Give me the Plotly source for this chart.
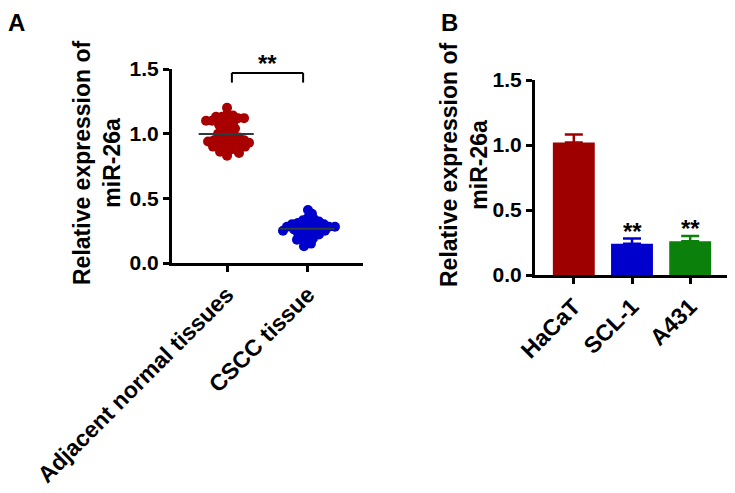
import numpy as np
import plotly.graph_objects as go

# ---------------- data ----------------
groups_a = ["Adjacent normal tissues", "CSCC tissue"]
normal_vals = [1.20, 1.15, 1.14, 1.13, 1.13, 1.12, 1.12, 1.11, 1.10, 1.10, 1.09,
               1.08, 1.07, 1.05, 1.04, 1.02, 1.01, 1.00, 0.99, 0.98, 0.97, 0.96,
               0.96, 0.95, 0.95, 0.94, 0.94, 0.93, 0.93, 0.92, 0.92, 0.91, 0.90,
               0.90, 0.89, 0.88, 0.87, 0.86, 0.85, 0.83]
cscc_vals = [0.41, 0.38, 0.35, 0.34, 0.33, 0.32, 0.31, 0.31, 0.30, 0.30, 0.29,
             0.29, 0.28, 0.28, 0.28, 0.27, 0.27, 0.26, 0.26, 0.25, 0.25, 0.24,
             0.24, 0.23, 0.22, 0.21, 0.20, 0.19, 0.18, 0.17, 0.15, 0.13]

cells_b = ["HaCaT", "SCL-1", "A431"]
cell_means = [1.02, 0.24, 0.26]
cell_sd = [0.06, 0.04, 0.04]

yticks = [0.0, 0.5, 1.0, 1.5]
ytick_text = ["0.0", "0.5", "1.0", "1.5"]
ytitle = "Relative expression of<br>miR-26a"

# ---------------- layout geometry ----------------
# page has an 8px body margin: figure is drawn 8px right/down of window origin
OFF = 8
W, H = 735, 493
A_x0, A_x1, A_y0, A_y1 = 172, 363, 263, 69     # window-pixel box of panel A axes
B_x0, B_x1, B_y0, B_y1 = 535, 729, 275, 80     # window-pixel box of panel B axes
A_xr = [-0.68, 1.68]
B_xr = [-0.667, 2.667]
YR = [0, 1.5]

def px(x):
    return (x - OFF) / W

def py(y):
    return 1 - (y - OFF) / H

def dom_x(a, b):
    return [px(a), px(b)]

def dom_y(bottom, top):
    return [py(bottom), py(top)]

RED_DOT = "#A80000"
BLUE_DOT = "#0000CC"
BAR_COLORS = ["#9E0000", "#0000CC", "#0B800B"]
FONT = "Liberation Sans, Arial, sans-serif"


def swarm(vals, center, xr, xpx, ypx_per_unit, d=5.5):
    """Deterministic beeswarm: offsets in data units so dots don't overlap."""
    px_per_x = xpx / (xr[1] - xr[0])
    order = np.argsort(vals)[::-1]
    placed = []
    xs = np.zeros(len(vals))
    for i in order:
        y = vals[i] * ypx_per_unit
        k = 0
        while True:
            off = ((k + 1) // 2) * (1 if k % 2 else -1) if k else 0
            ok = all((off - qx) ** 2 + (y - qy) ** 2 >= d * d for qx, qy in placed)
            if ok:
                break
            k += 1
        placed.append((off, y))
        xs[i] = center + off / px_per_x
    return xs


ypu_a = (A_y0 - A_y1) / 1.5
fig = go.Figure()

for gi, (vals, col) in enumerate([(normal_vals, RED_DOT), (cscc_vals, BLUE_DOT)]):
    xs = swarm(np.array(vals), gi, A_xr, A_x1 - A_x0, ypu_a)
    fig.add_trace(go.Scatter(x=xs, y=vals, mode="markers",
                             marker=dict(size=10, color=col, line=dict(width=0)),
                             xaxis="x", yaxis="y", showlegend=False))
    m = float(np.mean(vals))
    fig.add_trace(go.Scatter(x=[gi - 0.35, gi + 0.33], y=[m, m], mode="lines",
                             line=dict(color="#2b3b40", width=2),
                             xaxis="x", yaxis="y", showlegend=False))

# bars panel B
fig.add_trace(go.Bar(x=[0, 1, 2], y=cell_means, width=0.72,
                     marker=dict(color=BAR_COLORS, line=dict(width=0)),
                     xaxis="x2", yaxis="y2", showlegend=False))
for i in range(3):
    fig.add_trace(go.Scatter(x=[i], y=[cell_means[i]], mode="markers",
                             marker=dict(size=1, color="rgba(0,0,0,0)"),
                             error_y=dict(type="data", array=[cell_sd[i]],
                                          arrayminus=[0], symmetric=False,
                                          color=BAR_COLORS[i], thickness=2.5,
                                          width=9),
                             xaxis="x2", yaxis="y2", showlegend=False))

axis_common = dict(showline=True, linecolor="black", linewidth=3,
                   ticks="outside", ticklen=6, tickwidth=2.5, tickcolor="black",
                   showgrid=False, zeroline=False, fixedrange=True,
                   automargin=False,
                   tickfont=dict(family=FONT, size=21, color="black", weight="bold"))

fig.update_layout(
    width=W, height=H,
    margin=dict(l=0, r=0, t=0, b=0, autoexpand=False),
    paper_bgcolor="white", plot_bgcolor="white",
    xaxis=dict(domain=dom_x(A_x0, A_x1), range=A_xr, tickvals=[0, 1],
               ticktext=groups_a, tickangle=-45, anchor="y", **axis_common),
    yaxis=dict(domain=dom_y(A_y0, A_y1), range=YR, tickvals=yticks,
               ticktext=ytick_text, anchor="x", **axis_common),
    xaxis2=dict(domain=dom_x(B_x0, B_x1), range=B_xr, tickvals=[0, 1, 2],
                ticktext=cells_b, tickangle=-45, anchor="y2", **axis_common),
    yaxis2=dict(domain=dom_y(B_y0, B_y1), range=YR, tickvals=yticks,
                ticktext=ytick_text, anchor="x2", **axis_common),
)
fig.update_xaxes(tickfont=dict(size=23))

# significance bracket panel A
yb = 1.47
fig.add_shape(type="line", xref="x", yref="y", x0=0.06, x1=0.94, y0=yb, y1=yb,
              line=dict(color="black", width=2))
for xx in (0.06, 0.94):
    fig.add_shape(type="line", xref="x", yref="y", x0=xx, x1=xx, y0=yb - 0.075,
                  y1=yb + 0.0, line=dict(color="black", width=2))

anns = []
anns.append(dict(x=0.5, y=yb, xref="x", yref="y", text="**", showarrow=False,
                 yanchor="bottom", yshift=-6,
                 font=dict(family=FONT, size=24, color="black", weight="bold")))
for i in (1, 2):
    anns.append(dict(x=i, y=cell_means[i] + cell_sd[i], xref="x2", yref="y2",
                     text="**", showarrow=False, yanchor="bottom", yshift=-8,
                     font=dict(family=FONT, size=24, color="black", weight="bold")))
# axis titles
for xc, yc in ((97, 163), (464, 165)):
    anns.append(dict(x=px(xc), y=py(yc), xref="paper", yref="paper",
                     text=ytitle, textangle=-90, showarrow=False,
                     xanchor="center", yanchor="middle",
                     font=dict(family=FONT, size=23, color="black", weight="bold")))
# panel letters
anns.append(dict(x=px(7), y=py(8), xref="paper", yref="paper", text="A",
                 showarrow=False, xanchor="left", yanchor="top", borderpad=0,
                 font=dict(family=FONT, size=24, color="black", weight="bold")))
anns.append(dict(x=px(440), y=py(8), xref="paper", yref="paper", text="B",
                 showarrow=False, xanchor="left", yanchor="top", borderpad=0,
                 font=dict(family=FONT, size=24, color="black", weight="bold")))
fig.update_layout(annotations=anns)

fig.write_html("out.html")
